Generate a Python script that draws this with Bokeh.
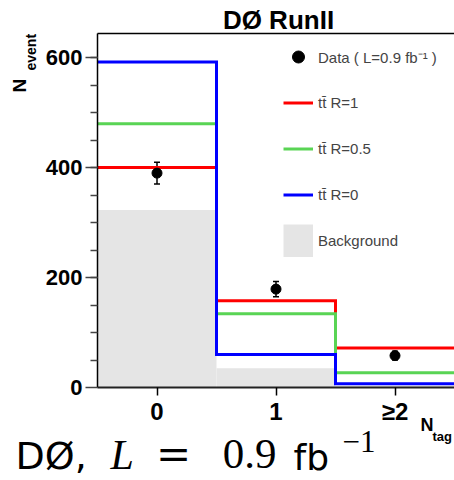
import math
from bokeh.plotting import figure
from bokeh.models import (ColumnDataSource, FixedTicker, Whisker, TeeHead, Label,
                          Legend, LegendItem, Range1d, LinearAxis)
from bokeh.embed import file_html
from bokeh.resources import INLINE

# ---- data ----
bin_edges = [-0.5, 0.5, 1.5, 2.5]
bin_centers = [0, 1, 2]
tick_labels = {0: "0", 1: "1", 2: "≥2"}
y_major_ticks = [0, 200, 400, 600]
background = [323, 35, 3]
ttbar_R1 = [400, 158, 72]
ttbar_R05 = [480, 134, 27]
ttbar_R0 = [592, 60, 7]
data_vals = [390, 179, 58]
data_errs = [20, 14, 8]

Y_MAX = 644
W, H = 454, 480
# plot-area placement in pixels
AL, AR, AT, AB = 97, 454, 33, 387
xs = (AR - AL) / (bin_edges[-1] - bin_edges[0])
ys = (AB - AT) / Y_MAX
x_start = bin_edges[0] - AL / xs
x_end = bin_edges[-1] + (W - AR) / xs
y_start = -(H - AB) / ys
y_end = Y_MAX + AT / ys

p = figure(width=W, height=H, output_backend="svg", toolbar_location=None,
           x_range=Range1d(x_start, x_end), y_range=Range1d(y_start, y_end),
           min_border=0, x_axis_location=None, y_axis_location=None)
p.outline_line_color = None
p.xgrid.visible = False
p.ygrid.visible = False
p.background_fill_color = "white"

def dx(px):
    return x_start + px / xs

def dy(py):
    return y_end - py / ys

# background histogram
p.quad(left=bin_edges[:-1], right=bin_edges[1:], bottom=0, top=background,
       fill_color="#e5e5e5", line_color=None)

def step(vals, color):
    return p.step(x=bin_edges, y=vals + [vals[-1]], mode="after", line_color=color,
                  line_width=3, line_join="miter")

r1 = step(ttbar_R1, "#ff0000")
r05 = step(ttbar_R05, "#59d454")
r0 = step(ttbar_R0, "#0000ff")

src = ColumnDataSource(dict(x=bin_centers, y=data_vals,
                            upper=[v + e for v, e in zip(data_vals, data_errs)],
                            lower=[v - e for v, e in zip(data_vals, data_errs)]))
p.add_layout(Whisker(base="x", upper="upper", lower="lower", source=src,
                     line_width=1.5, line_color="black",
                     upper_head=TeeHead(size=6, line_width=1.5, line_color="black"),
                     lower_head=TeeHead(size=6, line_width=1.5, line_color="black")))
pts = p.scatter(x="x", y="y", source=src, size=10, color="black")

# legend key for background (wide line acting as filled box, draws nothing in plot)
bkg_key = p.line(x=bin_centers[:1], y=[math.nan], line_color="#e5e5e5",
                 line_width=33, line_cap="butt")

legend = Legend(items=[
    LegendItem(label="Data ( L=0.9 fb⁻¹ )", renderers=[pts]),
    LegendItem(label="tt̄ R=1", renderers=[r1]),
    LegendItem(label="tt̄ R=0.5", renderers=[r05]),
    LegendItem(label="tt̄ R=0", renderers=[r0]),
    LegendItem(label="Background", renderers=[bkg_key]),
], location=(283, H - 257))
legend.glyph_width = 30
legend.glyph_height = 33
legend.spacing = 13
legend.padding = 0
legend.margin = 0
legend.label_standoff = 5
legend.label_text_font = "Liberation Sans"
legend.label_text_font_size = "15px"
legend.border_line_color = None
legend.background_fill_alpha = 0
p.add_layout(legend)

# y axis
ya = LinearAxis(fixed_location=bin_edges[0], bounds=(0, Y_MAX))
ya.ticker = FixedTicker(ticks=y_major_ticks, minor_ticks=list(range(50, 650, 50)))
ya.major_tick_out = 12
ya.major_tick_in = 0
ya.minor_tick_out = 7
ya.minor_tick_in = 0
ya.major_tick_line_color = "#444444"
ya.minor_tick_line_color = "#444444"
ya.major_tick_line_width = 1.5
ya.minor_tick_line_width = 1.5
ya.axis_line_color = "black"
ya.axis_line_width = 1.5
ya.major_label_standoff = 3
ya.major_label_text_font = "Liberation Sans"
ya.major_label_text_font_style = "bold"
ya.major_label_text_font_size = "22px"
ya.major_label_text_color = "black"
p.add_layout(ya, "left")

# x axis
xa = LinearAxis(fixed_location=0, bounds=(bin_edges[0], bin_edges[-1]))
xa.ticker = FixedTicker(ticks=bin_centers)
xa.major_label_overrides = tick_labels
xa.major_tick_out = 8
xa.major_tick_in = 0
xa.minor_tick_line_color = None
xa.major_tick_line_color = "black"
xa.major_tick_line_width = 1.5
xa.axis_line_color = "#222222"
xa.axis_line_width = 2
xa.major_label_standoff = 2
xa.major_label_text_font = "Liberation Sans"
xa.major_label_text_font_style = "bold"
xa.major_label_text_font_size = "24px"
xa.major_label_text_color = "black"
p.add_layout(xa, "below")

# top frame line
ta = LinearAxis(fixed_location=Y_MAX, bounds=(bin_edges[0], bin_edges[-1]))
ta.ticker = FixedTicker(ticks=[])
ta.major_tick_line_color = None
ta.minor_tick_line_color = None
ta.major_label_text_font_size = "0px"
ta.axis_line_color = "black"
ta.axis_line_width = 1.5
p.add_layout(ta, "above")

SHIFT = 0.4  # compensation for renderer's baseline placement (fraction of font size)

def lab(text, px, py, size, font="Liberation Sans", style="normal", align="left",
        angle=0.0):
    if angle == 0.0:
        py = py - SHIFT * size
    else:
        px = px - SHIFT * size * 0.8
    p.add_layout(Label(x=dx(px), y=dy(py), text=text, text_font=font,
                       text_font_style=style, text_font_size=f"{size}px",
                       text_align=align, text_baseline="alphabetic", angle=angle,
                       text_color="black"))

# title
lab("DØ RunII", 278, 30, 26, style="bold", align="center")
# y axis label
lab("N", 25, 92, 19, style="bold", angle=math.pi / 2)
lab("event", 35, 70, 14, style="bold", angle=math.pi / 2)
# x axis label
lab("N", 420, 432, 18, style="bold")
lab("tag", 432, 441, 13, style="bold")
# bottom caption
lab("DØ,", 15, 471, 38, font="DejaVu Sans")
lab("L", 110, 471, 42, font="Liberation Serif", style="italic")
lab("=", 173, 471, 42, font="DejaVu Serif", align="center")
lab("0.9", 249, 471, 43, font="Liberation Serif", align="center")
lab("fb", 293, 471, 36, font="DejaVu Sans")
lab("−1", 342, 453, 31, font="Liberation Serif")

open("out.html", "w").write(file_html(p, INLINE))
